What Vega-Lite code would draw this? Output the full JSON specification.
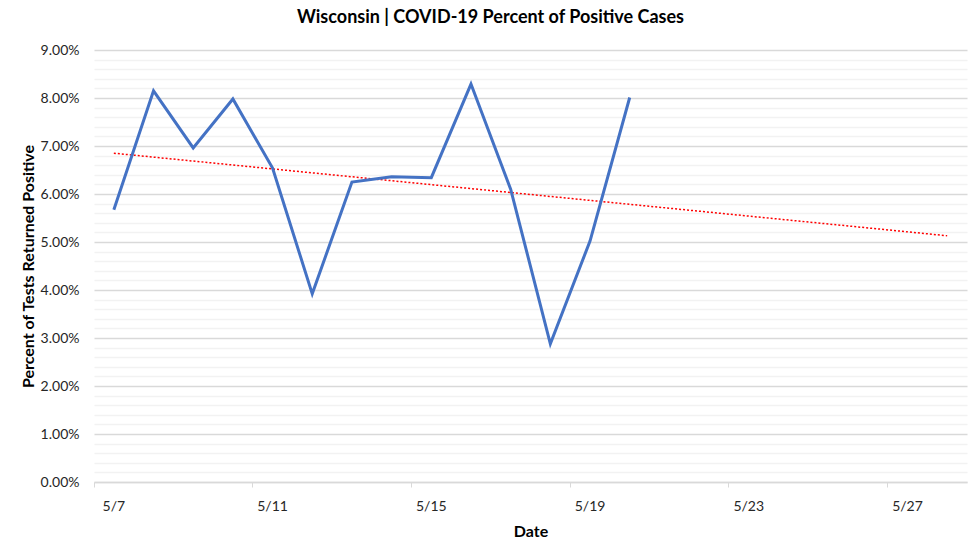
{
  "$schema": "https://vega.github.io/schema/vega-lite/v6.json",
  "width": 873,
  "height": 432,
  "autosize": {"type": "none"},
  "padding": {"left": 94, "top": 50, "right": 13, "bottom": 70},
  "background": "white",
  "config": {"view": {"stroke": null}, "font": "Lato"},
  "title": {
    "text": "Wisconsin | COVID-19 Percent of Positive Cases",
    "font": "Lato",
    "fontSize": 18,
    "fontWeight": "bold",
    "color": "#000000",
    "anchor": "middle",
    "frame": "group",
    "dx": -40,
    "offset": 16
  },
  "datasets": {
    "cases": [
      {"date": "5/7", "pct": 0.0567},
      {"date": "5/8", "pct": 0.0815},
      {"date": "5/9", "pct": 0.0696},
      {"date": "5/10", "pct": 0.0798},
      {"date": "5/11", "pct": 0.0654},
      {"date": "5/12", "pct": 0.0392},
      {"date": "5/13", "pct": 0.0625},
      {"date": "5/14", "pct": 0.0636},
      {"date": "5/15", "pct": 0.0634},
      {"date": "5/16", "pct": 0.0829},
      {"date": "5/17", "pct": 0.0610},
      {"date": "5/18", "pct": 0.0288},
      {"date": "5/19", "pct": 0.0502},
      {"date": "5/20", "pct": 0.0801}
    ],
    "trend": [
      {"date": "5/7", "pct": 0.0685},
      {"date": "5/28", "pct": 0.0513}
    ]
  },
  "layer": [
    {
      "data": {"name": "trend"},
      "mark": {"type": "line", "color": "#FF0000", "strokeWidth": 1.5, "strokeDash": [2, 2]},
      "encoding": {
        "x": {
          "field": "date", "type": "ordinal",
          "scale": {"domain": ["5/7","5/8","5/9","5/10","5/11","5/12","5/13","5/14","5/15","5/16","5/17","5/18","5/19","5/20","5/21","5/22","5/23","5/24","5/25","5/26","5/27","5/28"], "type": "band", "paddingInner": 0, "paddingOuter": 0},
          "axis": {
            "title": "Date",
            "titleFont": "Lato", "titleFontSize": 16, "titleFontWeight": "bold", "titleColor": "#000000",
            "titlePadding": 10,
            "values": ["5/7","5/11","5/15","5/19","5/23","5/27"],
            "bandPosition": 0,
            "labelAngle": 0,
            "labelFont": "Lato", "labelFontSize": 14, "labelColor": "#262626",
            "labelPadding": 12,
            "domainColor": "#d9d9d9", "domainWidth": 1.5,
            "tickColor": "#d9d9d9", "tickSize": 5, "tickWidth": 1,
            "grid": false
          }
        },
        "y": {
          "field": "pct", "type": "quantitative",
          "scale": {"domain": [0, 0.09], "nice": false, "zero": true},
          "axis": {
            "title": "Percent of Tests Returned Positive",
            "titleFont": "Lato", "titleFontSize": 16, "titleFontWeight": "bold", "titleColor": "#000000",
            "titlePadding": 4,
            "tickCount": 100,
            "values": [0,0.002,0.004,0.006,0.008,0.01,0.012,0.014,0.016,0.018,0.02,0.022,0.024,0.026,0.028,0.03,0.032,0.034,0.036,0.038,0.04,0.042,0.044,0.046,0.048,0.05,0.052,0.054,0.056,0.058,0.06,0.062,0.064,0.066,0.068,0.07,0.072,0.074,0.076,0.078,0.08,0.082,0.084,0.086,0.088,0.09],
            "labelExpr": "abs(datum.value*100 - round(datum.value*100)) < 0.001 ? format(datum.value, '.2%') : ''",
            "labelOverlap": false,
            "labelFont": "Lato", "labelFontSize": 14, "labelColor": "#262626",
            "labelPadding": 15,
            "ticks": false,
            "domain": false,
            "grid": true,
            "gridColor": {"condition": {"test": "abs(datum.value*100 - round(datum.value*100)) < 0.001", "value": "#d9d9d9"}, "value": "#f2f2f2"},
            "gridWidth": 1.5
          }
        }
      }
    },
    {
      "data": {"name": "cases"},
      "mark": {"type": "line", "color": "#4472C4", "strokeWidth": 3},
      "encoding": {
        "x": {"field": "date", "type": "ordinal"},
        "y": {"field": "pct", "type": "quantitative"}
      }
    }
  ]
}
